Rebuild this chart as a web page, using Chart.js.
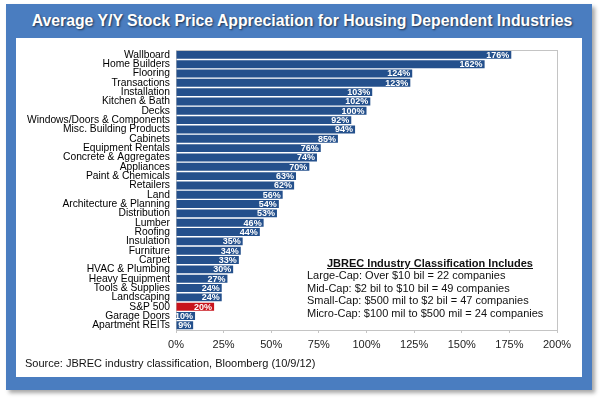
<!DOCTYPE html>
<html lang="en">
<head>
  <meta charset="UTF-8" />
  <title>Average Y/Y Stock Price Appreciation for Housing Dependent Industries</title>
  <script src="https://cdn.jsdelivr.net/npm/chart.js"></script>
  <style>
    body { margin: 0; background: #fff; font-family: "Liberation Sans", Arial, sans-serif; }
    #stage { position: relative; width: 600px; height: 398px; overflow: hidden; }
    #frame {
      position: absolute; left: 6px; top: 4px; width: 586px; height: 386px;
      background: #4A7DC0; box-shadow: 3px 3px 4px rgba(0,0,0,0.35);
    }
    #title {
      position: absolute; left: 0; top: 10px; width: 604px; height: 21px;
      line-height: 21px; text-align: center; color: #fff;
      font-weight: bold; font-size: 15.8px;
      text-shadow: 1px 1px 2px rgba(0,0,0,0.6);
    }
    #panel { position: absolute; left: 16px; top: 38px; width: 566px; height: 339px; background: #fff; }
    #panel canvas { position: absolute; left: 0; top: 0; }
    .note { position: absolute; color: #111; font-size: 11px; line-height: 12.6px; white-space: nowrap; }
    #noteHead { left: 264px; top: 219px; width: 300px; text-align: center; font-weight: bold; text-decoration: underline; }
    #noteLines { left: 291px; top: 231px; }
    #source { position: absolute; left: 9px; top: 318px; font-size: 11px; line-height: 14px; color: #111; white-space: nowrap; }
  </style>
</head>
<body>
  <div id="stage">
    <div id="frame"></div>
    <div id="title">Average Y/Y Stock Price Appreciation for Housing Dependent Industries</div>
    <div id="panel">
      <canvas id="chart" width="566" height="339"></canvas>
      <div id="noteHead" class="note"></div>
      <div id="noteLines" class="note"></div>
      <div id="source"></div>
    </div>
  </div>

  <script>
    const categories = [
      'Wallboard', 'Home Builders', 'Flooring', 'Transactions', 'Installation',
      'Kitchen & Bath', 'Decks', 'Windows/Doors & Components', 'Misc. Building Products',
      'Cabinets', 'Equipment Rentals', 'Concrete & Aggregates', 'Appliances',
      'Paint & Chemicals', 'Retailers', 'Land', 'Architecture & Planning', 'Distribution',
      'Lumber', 'Roofing', 'Insulation', 'Furniture', 'Carpet', 'HVAC & Plumbing',
      'Heavy Equipment', 'Tools & Supplies', 'Landscaping', 'S&P 500', 'Garage Doors',
      'Apartment REITs'
    ];
    const appreciation = [
      176, 162, 124, 123, 103, 102, 100, 92, 94, 85, 76, 74, 70, 63, 62,
      56, 54, 53, 46, 44, 35, 34, 33, 30, 27, 24, 24, 20, 10, 9
    ];
    const highlight = 'S&P 500';
    const xTicks = [0, 25, 50, 75, 100, 125, 150, 175, 200];
    const noteTitle = 'JBREC Industry Classification Includes';
    const noteLines = [
      'Large-Cap: Over $10 bil = 22 companies',
      'Mid-Cap: $2 bil to $10 bil = 49 companies',
      'Small-Cap: $500 mil to $2 bil = 47 companies',
      'Micro-Cap: $100 mil to $500 mil = 24 companies'
    ];
    const sourceText = 'Source: JBREC industry classification, Bloomberg (10/9/12)';

    document.getElementById('noteHead').textContent = noteTitle;
    document.getElementById('noteLines').innerHTML = noteLines.map(l => '<div>' + l.replace(/&/g, '&amp;') + '</div>').join('');
    document.getElementById('source').textContent = sourceText;

    const FONT = '"Liberation Sans", Arial, sans-serif';

    // grey box around the plot area
    const plotBox = {
      id: 'plotBox',
      beforeDatasetsDraw(chart) {
        const a = chart.chartArea;
        const ctx = chart.ctx;
        ctx.save();
        ctx.strokeStyle = '#C4C4C4';
        ctx.lineWidth = 1;
        ctx.strokeRect(Math.round(a.left) + 0.5, Math.round(a.top) + 0.5,
          Math.round(a.right - a.left), Math.round(a.bottom - a.top));
        ctx.restore();
      }
    };

    // value labels inside the bar ends
    const barLabels = {
      id: 'barLabels',
      afterDatasetsDraw(chart) {
        const ctx = chart.ctx;
        const meta = chart.getDatasetMeta(0);
        ctx.save();
        ctx.font = 'bold 9px ' + FONT;
        ctx.fillStyle = '#fff';
        ctx.textAlign = 'right';
        ctx.textBaseline = 'middle';
        meta.data.forEach((bar, i) => {
          ctx.fillText(appreciation[i] + '%', bar.x - 2, bar.y + 0.5);
        });
        ctx.restore();
      }
    };

    new Chart(document.getElementById('chart'), {
      type: 'bar',
      data: {
        labels: categories,
        datasets: [{
          data: appreciation,
          backgroundColor: categories.map(c => c === highlight ? '#C8141C' : '#24508C'),
          borderWidth: 0,
          barPercentage: 0.85,
          categoryPercentage: 1
        }]
      },
      options: {
        indexAxis: 'y',
        responsive: false,
        animation: false,
        layout: { padding: { top: 10, right: 25, bottom: 27, left: 0 } },
        plugins: { legend: { display: false }, tooltip: { enabled: false } },
        scales: {
          x: {
            min: 0,
            max: 200,
            afterBuildTicks: scale => { scale.ticks = xTicks.map(v => ({ value: v })); },
            afterFit: scale => { scale.height = 20; },
            ticks: {
              callback: v => v + '%',
              font: { family: FONT, size: 11 },
              color: '#222',
              padding: 5
            },
            grid: { drawOnChartArea: false, tickLength: 3, color: '#C4C4C4' },
            border: { display: false }
          },
          y: {
            afterFit: scale => { scale.width = 160; },
            ticks: {
              autoSkip: false,
              font: { family: FONT, size: 10.3 },
              color: '#000',
              padding: 6
            },
            grid: { display: false, drawTicks: false },
            border: { display: false }
          }
        }
      },
      plugins: [plotBox, barLabels]
    });
  </script>
</body>
</html>
